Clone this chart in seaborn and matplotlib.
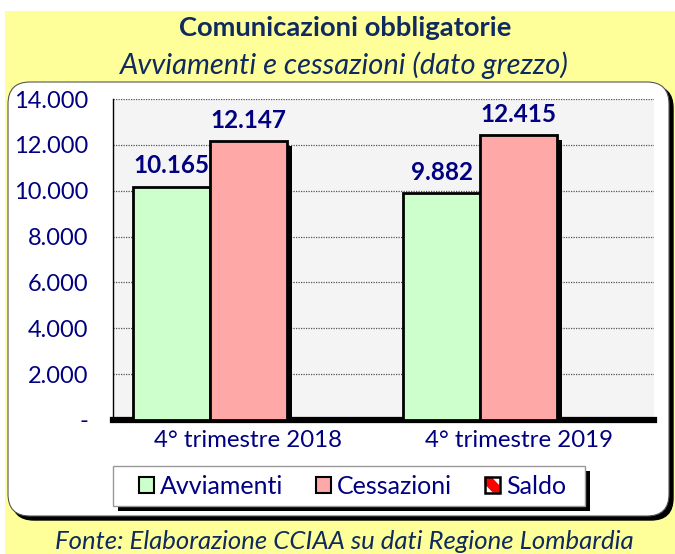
import matplotlib
matplotlib.use("Agg")
import matplotlib.pyplot as plt
from matplotlib.patches import FancyBboxPatch, Rectangle, Patch, Polygon
from matplotlib.legend_handler import HandlerBase
import matplotlib.patheffects as pe
import seaborn as sns
import pandas as pd
import numpy as np

# ---- data ----
periods = ["4° trimestre 2018", "4° trimestre 2019"]
avviamenti = [10165, 9882]
cessazioni = [12147, 12415]
saldo = [np.nan, np.nan]          # no bar visible in the chart
series = ["Avviamenti", "Cessazioni", "Saldo"]
yticks = [0, 2000, 4000, 6000, 8000, 10000, 12000, 14000]

title = "Comunicazioni obbligatorie"
subtitle = "Avviamenti e cessazioni (dato grezzo)"
source = "Fonte: Elaborazione CCIAA su dati Regione Lombardia"

df = pd.DataFrame({
    "periodo": periods * 3,
    "serie": [series[0]] * 2 + [series[1]] * 2 + [series[2]] * 2,
    "valore": avviamenti + cessazioni + saldo,
})

sns.set_theme(style="white")
plt.rcParams["font.family"] = ["Lato", "DejaVu Sans"]

NAVY = "#000080"
DARK = "#0E2A5E"
GREEN = "#CCFFCC"
PINK = "#FFA8A8"
RED = "#FF0000"

fig = plt.figure(figsize=(6.75, 5.54), dpi=100)
fig.patch.set_facecolor("white")
tr = fig.dpi_scale_trans

# yellow panel
fig.patches.append(Rectangle((0.05, 0.0), 6.70, 5.43, transform=tr,
                             facecolor="#FFFF99", edgecolor="none", zorder=0))
# white rounded box with shadow
fig.patches.append(FancyBboxPatch((0.12, 0.34), 6.61, 4.34, transform=tr,
                                  boxstyle="round,pad=0,rounding_size=0.22",
                                  facecolor="black", edgecolor="black", zorder=1))
fig.patches.append(FancyBboxPatch((0.08, 0.38), 6.61, 4.34, transform=tr,
                                  boxstyle="round,pad=0,rounding_size=0.22",
                                  facecolor="white", edgecolor="#555555",
                                  linewidth=0.8, zorder=2))
# legend box with shadow
fig.patches.append(Rectangle((1.18, 0.43), 4.72, 0.40, transform=tr,
                             facecolor="black", edgecolor="none", zorder=3))
fig.patches.append(Rectangle((1.13, 0.48), 4.72, 0.40, transform=tr,
                             facecolor="white", edgecolor="#999999",
                             linewidth=1.0, zorder=4))

# titles
fig.text(0.512, 0.949, title, ha="center", va="center", fontsize=19.7,
         fontweight="bold", color=DARK)
fig.text(0.510, 0.882, subtitle, ha="center", va="center", fontsize=21,
         style="italic", color=DARK)
fig.text(0.51, 0.023, source, ha="center", va="center", fontsize=18.5,
         style="italic", color=DARK)

# axes
ax = fig.add_axes([113 / 675, 1 - 420 / 554, 541 / 675, 321 / 554])
ax.set_facecolor("#F4F4F4")
ax.set_zorder(5)

sns.barplot(data=df, x="periodo", y="valore", hue="serie", order=periods,
            hue_order=series, palette=[GREEN, PINK, "white"], width=0.855,
            edgecolor="black", linewidth=2.0, saturation=1, legend=False,
            ax=ax, zorder=3)

for p in ax.patches:
    p.set_path_effects([pe.SimplePatchShadow(offset=(3.5, -3), shadow_rgbFace="black",
                                             alpha=1.0), pe.Normal()])

def fmt(v):
    return "-" if v == 0 else f"{v:,}".replace(",", ".")

for cont in ax.containers:
    vals = cont.datavalues
    labels = ["" if np.isnan(v) else fmt(int(v)) for v in vals]
    ax.bar_label(cont, labels=labels, padding=7, fontsize=17.5,
                 fontweight="bold", color=NAVY)

ax.set_ylim(0, 14000)
ax.set_xlim(-0.5, 1.5)
ax.set_yticks(yticks)
ax.set_yticklabels([fmt(v) for v in yticks])
ax.tick_params(axis="y", length=0, pad=18, labelsize=17, labelcolor=NAVY)
ax.tick_params(axis="x", length=0, pad=7, labelsize=17.3, labelcolor=NAVY)
ax.set_xlabel("")
ax.set_ylabel("")
ax.yaxis.grid(True, color="#555555", linestyle=(0, (1, 1)), linewidth=0.9)
ax.set_axisbelow(True)

for s in ["top", "right"]:
    ax.spines[s].set_visible(False)
ax.spines["left"].set_color("black")
ax.spines["left"].set_linewidth(1.0)
ax.spines["bottom"].set_color("black")
ax.spines["bottom"].set_linewidth(4.5)


class SaldoHandler(HandlerBase):
    def create_artists(self, legend, orig_handle, xdescent, ydescent,
                       width, height, fontsize, trans):
        x0, y0 = -xdescent, -ydescent
        w, h = width, height
        bg = Rectangle((x0, y0), w, h, facecolor="white", edgecolor="none",
                       transform=trans)
        band = Polygon([(x0, y0 + h), (x0 + 0.45 * w, y0 + h),
                        (x0 + w, y0 + 0.45 * h), (x0 + w, y0),
                        (x0 + 0.55 * w, y0), (x0, y0 + 0.55 * h)],
                       closed=True, facecolor=RED, edgecolor="none",
                       transform=trans)
        frame = Rectangle((x0, y0), w, h, facecolor="none", edgecolor="black",
                          linewidth=1.8, transform=trans)
        return [bg, band, frame]


h_avv = Patch(facecolor=GREEN, edgecolor="black", linewidth=1.5)
h_ces = Patch(facecolor=PINK, edgecolor="black", linewidth=1.5)
h_sal = Patch(facecolor="white", edgecolor="black")
leg = fig.legend([h_avv, h_ces, h_sal], series,
                 handler_map={h_sal: SaldoHandler()},
                 loc="center", bbox_to_anchor=(0.522, 1 - 486 / 554),
                 bbox_transform=fig.transFigure, ncol=3, frameon=False,
                 fontsize=18, labelcolor=NAVY, handlelength=0.6,
                 handleheight=0.6, handletextpad=0.25, columnspacing=1.3)
leg.set_zorder(6)

fig.savefig("out.png", dpi=100)
